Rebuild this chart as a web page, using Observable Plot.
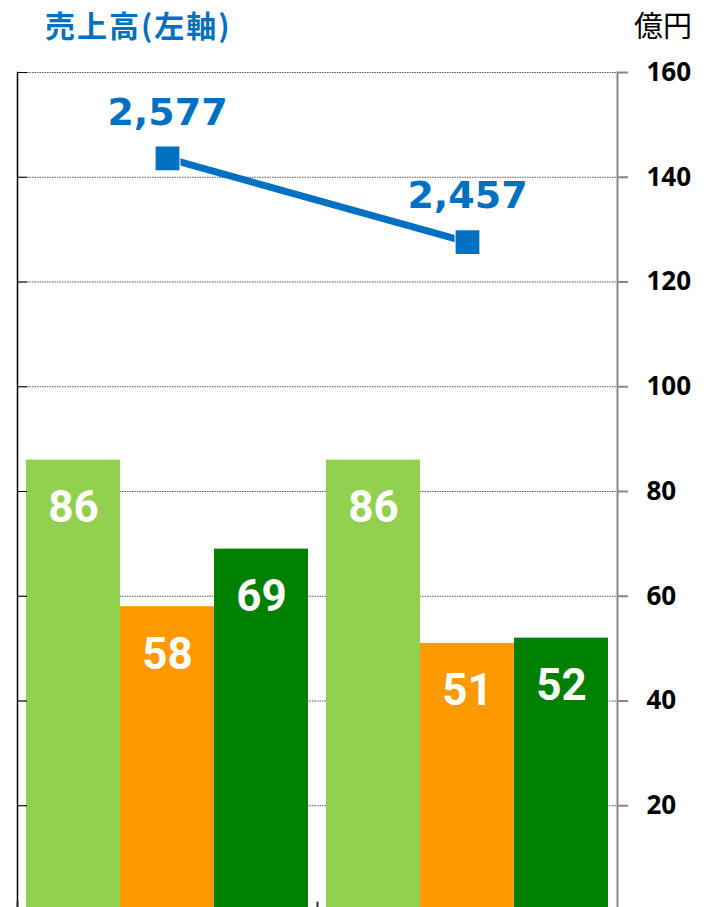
<!DOCTYPE html>
<html>
<head>
<meta charset="utf-8">
<script src="https://cdn.jsdelivr.net/npm/d3@7"></script>
<script src="https://cdn.jsdelivr.net/npm/@observablehq/plot@0.6"></script>
<style>
  html, body { margin: 0; padding: 0; background: #fff; }
  #wrap { position: relative; width: 706px; height: 907px; overflow: hidden; }
  #title { position: absolute; left: 45px; top: 4px; font-family: "Noto Sans CJK JP", sans-serif; font-weight: 700; font-size: 30px; color: #0070c0; letter-spacing: 2px; line-height: 40px; }
  #unit { position: absolute; left: 634px; top: 4px; font-family: "Noto Sans CJK JP", sans-serif; font-weight: 400; font-size: 29px; color: #000; line-height: 40px; }
</style>
</head>
<body>
<div id="wrap">
  <div id="title">売上高(左軸)</div>
  <div id="unit">億円</div>
</div>
<script>
// Periods (groups)
const groups = ["前期", "当期"];
// Bar series (right axis, 億円)
const seriesNames = ["系列1", "系列2", "系列3"];
const seriesColors = ["#92d050", "#ff9900", "#008000"];
const series1 = [86, 86];
const series2 = [58, 51];
const series3 = [69, 52];
// Line series: 売上高 (left axis, 億円)
const sales = [2577, 2457];
// Left axis range (unlabelled) and right axis ticks
const leftDomain = [1500, 2700];
const rightDomain = [0, 160];
const rightTicks = [20, 40, 60, 80, 100, 120, 140, 160];

const seriesValues = [series1, series2, series3];
const bars = seriesValues.flatMap((vals, s) =>
  vals.map((v, i) => ({group: groups[i], series: seriesNames[s], value: v})));
const salesData = sales.map((v, i) => ({group: groups[i], sales: v}));
const toRight = v => (v - leftDomain[0]) / (leftDomain[1] - leftDomain[0]) * (rightDomain[1] - rightDomain[0]) + rightDomain[0];

const insets = [[9, 197], [103, 103], [197, 9]];
const labelDx = [-94, 0, 94];

const marks = [
  Plot.gridY(rightTicks, {stroke: "#555", strokeOpacity: 1, strokeWidth: 1, strokeDasharray: "1.5,1"}),
];
seriesNames.forEach((name, s) => {
  marks.push(Plot.barY(bars.filter(d => d.series === name), {
    x: "group", y: "value", fill: seriesColors[s],
    insetLeft: insets[s][0], insetRight: insets[s][1]
  }));
});
seriesNames.forEach((name, s) => {
  marks.push(Plot.text(bars.filter(d => d.series === name), {
    x: "group", y: "value", text: d => String(d.value), dx: labelDx[s], dy: 48,
    fill: "#fff", fontSize: 44, fontWeight: 700, fontFamily: "Roboto, sans-serif"
  }));
});
marks.push(
  Plot.frame({anchor: "left", stroke: "#000", strokeWidth: 1.5}),
  Plot.frame({anchor: "right", stroke: "#888", strokeWidth: 2}),
  Plot.ruleY(rightTicks, {y: d => d, stroke: "#000", strokeWidth: 1, insetRight: 590}),
  Plot.ruleX(groups, {x: d => d, dx: -150, y1: 0, y2: 1.6, stroke: "#333", strokeWidth: 2}),
  Plot.axisY({anchor: "right", ticks: rightTicks, tickSize: 10, tickPadding: 19, tickFormat: d => String(d),
    stroke: "#888", strokeWidth: 2, fill: "#000", fontSize: 26, fontWeight: 700, fontFamily: "Open Sans, sans-serif", label: null}),
  Plot.line(salesData, {x: "group", y: d => toRight(d.sales), stroke: "#0070c0", strokeWidth: 7}),
  Plot.dot(salesData, {x: "group", y: d => toRight(d.sales), symbol: "square", r: 14, fill: "#0070c0", stroke: "#fff", strokeWidth: 1}),
  Plot.text(salesData, {x: "group", y: d => toRight(d.sales), text: d => d3.format(",")(d.sales), dy: -46,
    fill: "#0070c0", fontSize: 38, fontWeight: 700, fontFamily: "DejaVu Sans, sans-serif"})
);

const chart = Plot.plot({
  width: 706,
  height: 907,
  marginLeft: 17,
  marginRight: 89,
  marginTop: 72,
  marginBottom: 0,
  x: {type: "band", domain: groups, range: [17, 617], padding: 0, axis: null},
  y: {domain: rightDomain, range: [910, 72], axis: null},
  style: {background: "transparent", overflow: "visible"},
  marks
});
chart.style.position = "absolute";
chart.style.left = "0";
chart.style.top = "0";
document.getElementById("wrap").prepend(chart);
</script>
</body>
</html>
